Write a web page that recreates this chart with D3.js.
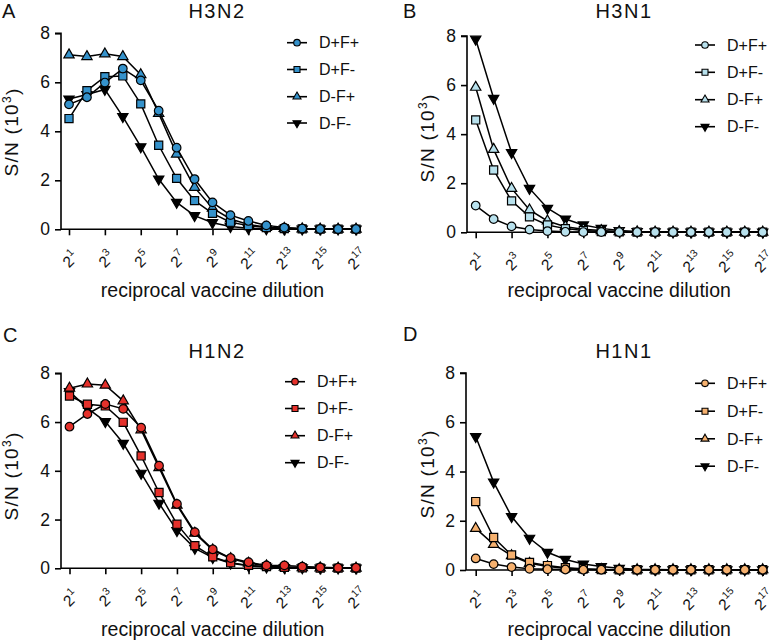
<!DOCTYPE html>
<html><head><meta charset="utf-8">
<script src="https://cdn.jsdelivr.net/npm/d3@7"></script>
<style>
body{margin:0;background:#fff;}
svg{display:block;font-family:"Liberation Sans",Arial,sans-serif;}
</style></head>
<body>
<svg id="chart" width="771" height="644"></svg>
<script>
// x values: reciprocal vaccine dilution, 2^1 .. 2^17
const exponents = [1,2,3,4,5,6,7,8,9,10,11,12,13,14,15,16,17];
const tickExponents = [1,3,5,7,9,11,13,15,17];
const yTicks = [0,2,4,6,8];
const seriesNames = ["D+F+","D+F-","D-F+","D-F-"];
const panelTitles = ["H3N2","H3N1","H1N2","H1N1"];
const panelLetters = ["A","B","C","D"];
const panelColors = ["#3592CB","#B8E1ED","#E5312B","#F6B16F"];

// S/N (10^3) values per panel, per series
const H3N2_DpFp = [5.10,5.39,5.99,6.56,6.08,4.84,3.33,2.05,1.10,0.58,0.34,0.16,0.07,0.03,0.01,0.01,0.01];
const H3N2_DpFm = [4.52,5.66,6.23,6.26,5.12,3.43,2.08,1.17,0.65,0.29,0.15,0.07,0.03,0.02,0.01,0.01,0.01];
const H3N2_DmFp = [7.12,7.05,7.16,7.05,6.31,4.73,3.07,1.71,0.86,0.42,0.20,0.08,0.04,0.02,0.01,0.01,0.01];
const H3N2_DmFm = [5.32,5.50,5.71,4.60,3.37,2.05,1.10,0.56,0.27,0.11,0.04,0.02,0.01,0.01,0.01,0.01,0.01];

const H3N1_DpFp = [1.09,0.54,0.24,0.11,0.05,0.02,0.01,0.01,0.01,0.01,0.01,0.01,0.01,0.01,0.01,0.01,0.01];
const H3N1_DpFm = [4.58,2.54,1.28,0.63,0.30,0.15,0.07,0.03,0.02,0.01,0.01,0.01,0.01,0.01,0.01,0.01,0.01];
const H3N1_DmFp = [5.91,3.38,1.79,0.91,0.46,0.23,0.12,0.07,0.03,0.02,0.01,0.01,0.01,0.01,0.01,0.01,0.01];
const H3N1_DmFm = [7.87,5.46,3.25,1.79,0.98,0.54,0.30,0.16,0.07,0.03,0.02,0.01,0.01,0.01,0.01,0.01,0.01];

const H1N2_DpFp = [5.81,6.33,6.74,6.54,5.77,4.21,2.64,1.48,0.78,0.42,0.25,0.12,0.12,0.07,0.04,0.02,0.02];
const H1N2_DpFm = [7.07,6.73,6.66,5.99,4.61,3.11,1.81,0.93,0.47,0.23,0.12,0.07,0.04,0.02,0.01,0.01,0.01];
const H1N2_DmFp = [7.39,7.56,7.51,6.87,5.68,4.13,2.59,1.44,0.75,0.40,0.21,0.10,0.05,0.03,0.02,0.01,0.01];
const H1N2_DmFm = [7.25,6.57,6.02,5.13,3.90,2.67,1.55,0.82,0.44,0.21,0.10,0.05,0.03,0.02,0.01,0.01,0.01];

const H1N1_DpFp = [0.47,0.24,0.12,0.05,0.03,0.02,0.01,0.01,0.01,0.01,0.01,0.01,0.01,0.01,0.01,0.01,0.01];
const H1N1_DpFm = [2.78,1.32,0.61,0.31,0.18,0.09,0.05,0.02,0.01,0.01,0.01,0.01,0.01,0.01,0.01,0.01,0.01];
const H1N1_DmFp = [1.69,1.04,0.58,0.27,0.14,0.07,0.03,0.02,0.01,0.01,0.01,0.01,0.01,0.01,0.01,0.01,0.01];
const H1N1_DmFm = [5.42,3.57,2.17,1.29,0.72,0.43,0.24,0.14,0.07,0.03,0.02,0.01,0.01,0.01,0.01,0.01,0.01];

const panelData = [
  [H3N2_DpFp,H3N2_DpFm,H3N2_DmFp,H3N2_DmFm],
  [H3N1_DpFp,H3N1_DpFm,H3N1_DmFp,H3N1_DmFm],
  [H1N2_DpFp,H1N2_DpFm,H1N2_DmFp,H1N2_DmFm],
  [H1N1_DpFp,H1N1_DpFm,H1N1_DmFp,H1N1_DmFm]
];

// layout per panel
const layout = [
  {ax:61,  y8:33.3, y0:229.3, x1:69,    x17:356,   letter:[2,18],   title:[217,18],  ylab:[10,132],  legX:297, legRows:[42.7,69.5,96.7,123], labY:297},
  {ax:467, y8:36,   y0:232.3, x1:475.7, x17:762.7, letter:[403,18], title:[624,18],  ylab:[426,138], legX:705, legRows:[45,72.3,99.7,126.7], labY:297},
  {ax:61,  y8:373.3,y0:568.3, x1:69.5,  x17:356,   letter:[3,342],  title:[217,358], ylab:[10,476],  legX:295, legRows:[381.7,408.5,435.7,462.7], labY:636},
  {ax:466, y8:373,  y0:570,   x1:475.7, x17:762.7, letter:[403,341],title:[624,358], ylab:[426,474], legX:705, legRows:[383.3,411.2,438.8,466.2], labY:636}
];

const svg = d3.select("#chart");

function symbolPath(k, size){
  if(k===0) return d3.symbol(d3.symbolCircle, size)();
  if(k===1) return d3.symbol(d3.symbolSquare, size)();
  return d3.symbol(d3.symbolTriangle, size)();
}
const dataSizes = [58,66,46,46];
const legSizes = [34,36,28,28];

panelData.forEach((series, p) => {
  const L = layout[p];
  const color = panelColors[p];
  const g = svg.append("g");
  const x = d3.scaleLog().base(2).domain([2, Math.pow(2,17)]).range([L.x1, L.x17]);
  const y = d3.scaleLinear().domain([0,8]).range([L.y0, L.y8]);

  // y axis
  const yAxis = d3.axisLeft(y).tickValues(yTicks).tickSize(6).tickPadding(5).tickFormat(d3.format("d"));
  const gy = g.append("g").attr("transform",`translate(${L.ax},0)`).call(yAxis);
  gy.select(".domain").attr("stroke","#000").attr("stroke-width",1.6).attr("d",`M-6,${y(8)}H0V${y(0)}`);
  gy.selectAll(".tick line").attr("stroke","#000").attr("stroke-width",1.6);
  gy.selectAll(".tick text").attr("font-size",17.5).attr("fill","#111").attr("font-family","Liberation Sans, Arial, sans-serif");

  // x axis
  const xAxis = d3.axisBottom(x).tickValues(tickExponents.map(e=>Math.pow(2,e))).tickSize(6).tickFormat("");
  const gx = g.append("g").attr("transform",`translate(0,${L.y0})`).call(xAxis);
  gx.select(".domain").attr("stroke","#000").attr("stroke-width",1.6).attr("d",`M${L.ax},0H${L.x17+3}`);
  gx.selectAll(".tick line").attr("stroke","#000").attr("stroke-width",1.6);
  tickExponents.forEach(e => {
    const t = g.append("g").attr("transform",`translate(${x(Math.pow(2,e))+1.5},${L.y0+30}) rotate(-45)`)
      .append("text").attr("text-anchor","middle").attr("dy","0.35em").attr("font-size",15.5).attr("fill","#111");
    t.append("tspan").text("2");
    t.append("tspan").attr("font-size",10.5).attr("dy","-0.7em").attr("dx","0.5").text(String(e));
  });

  // x label
  g.append("text").attr("x",(L.x1+L.x17)/2).attr("y",L.labY).attr("text-anchor","middle")
    .attr("font-size",19.5).attr("fill","#111").text("reciprocal vaccine dilution");

  // y label
  const yl = g.append("text").attr("transform",`translate(${L.ylab[0]+8},${L.ylab[1]}) rotate(-90)`)
    .attr("text-anchor","middle").attr("font-size",19).attr("letter-spacing",1.3).attr("fill","#111");
  yl.append("tspan").text("S/N (10");
  yl.append("tspan").attr("font-size",12).attr("dy","-0.6em").text("3");
  yl.append("tspan").attr("dy","0.45em").text(")");

  // title and letter
  g.append("text").attr("x",L.title[0]).attr("y",L.title[1]).attr("text-anchor","middle")
    .attr("font-size",20).attr("letter-spacing",1.5).attr("fill","#111").text(panelTitles[p]);
  g.append("text").attr("x",L.letter[0]).attr("y",L.letter[1])
    .attr("font-size",20).attr("fill","#111").text(panelLetters[p]);

  // series: draw in reverse so D+F+ on top
  const line = d3.line().x((d,i)=>x(Math.pow(2,exponents[i]))).y(d=>y(d));
  [3,2,1,0].forEach(k => {
    const vals = series[k];
    g.append("path").datum(vals).attr("d",line).attr("fill","none").attr("stroke","#000").attr("stroke-width",1.5);
    const fill = k===3 ? "#000" : color;
    g.selectAll(null).data(vals).enter().append("path")
      .attr("d", symbolPath(k, dataSizes[k]))
      .attr("transform",(d,i)=>`translate(${x(Math.pow(2,exponents[i]))},${y(d)})${k===3?" rotate(180)":""}`)
      .attr("fill",fill).attr("stroke","#000").attr("stroke-width",1.2);
  });

  // legend
  seriesNames.forEach((name,k) => {
    const ry = L.legRows[k];
    g.append("line").attr("x1",L.legX-10).attr("x2",L.legX+10).attr("y1",ry).attr("y2",ry)
      .attr("stroke","#000").attr("stroke-width",1.6);
    g.append("path").attr("d",symbolPath(k, legSizes[k]))
      .attr("transform",`translate(${L.legX},${ry})${k===3?" rotate(180)":""}`)
      .attr("fill",k===3?"#000":color).attr("stroke","#000").attr("stroke-width",1.1);
    g.append("text").attr("x",L.legX+22).attr("y",ry).attr("dy","0.36em")
      .attr("font-size",16).attr("fill","#111").text(name);
  });
});
</script>
</body></html>
